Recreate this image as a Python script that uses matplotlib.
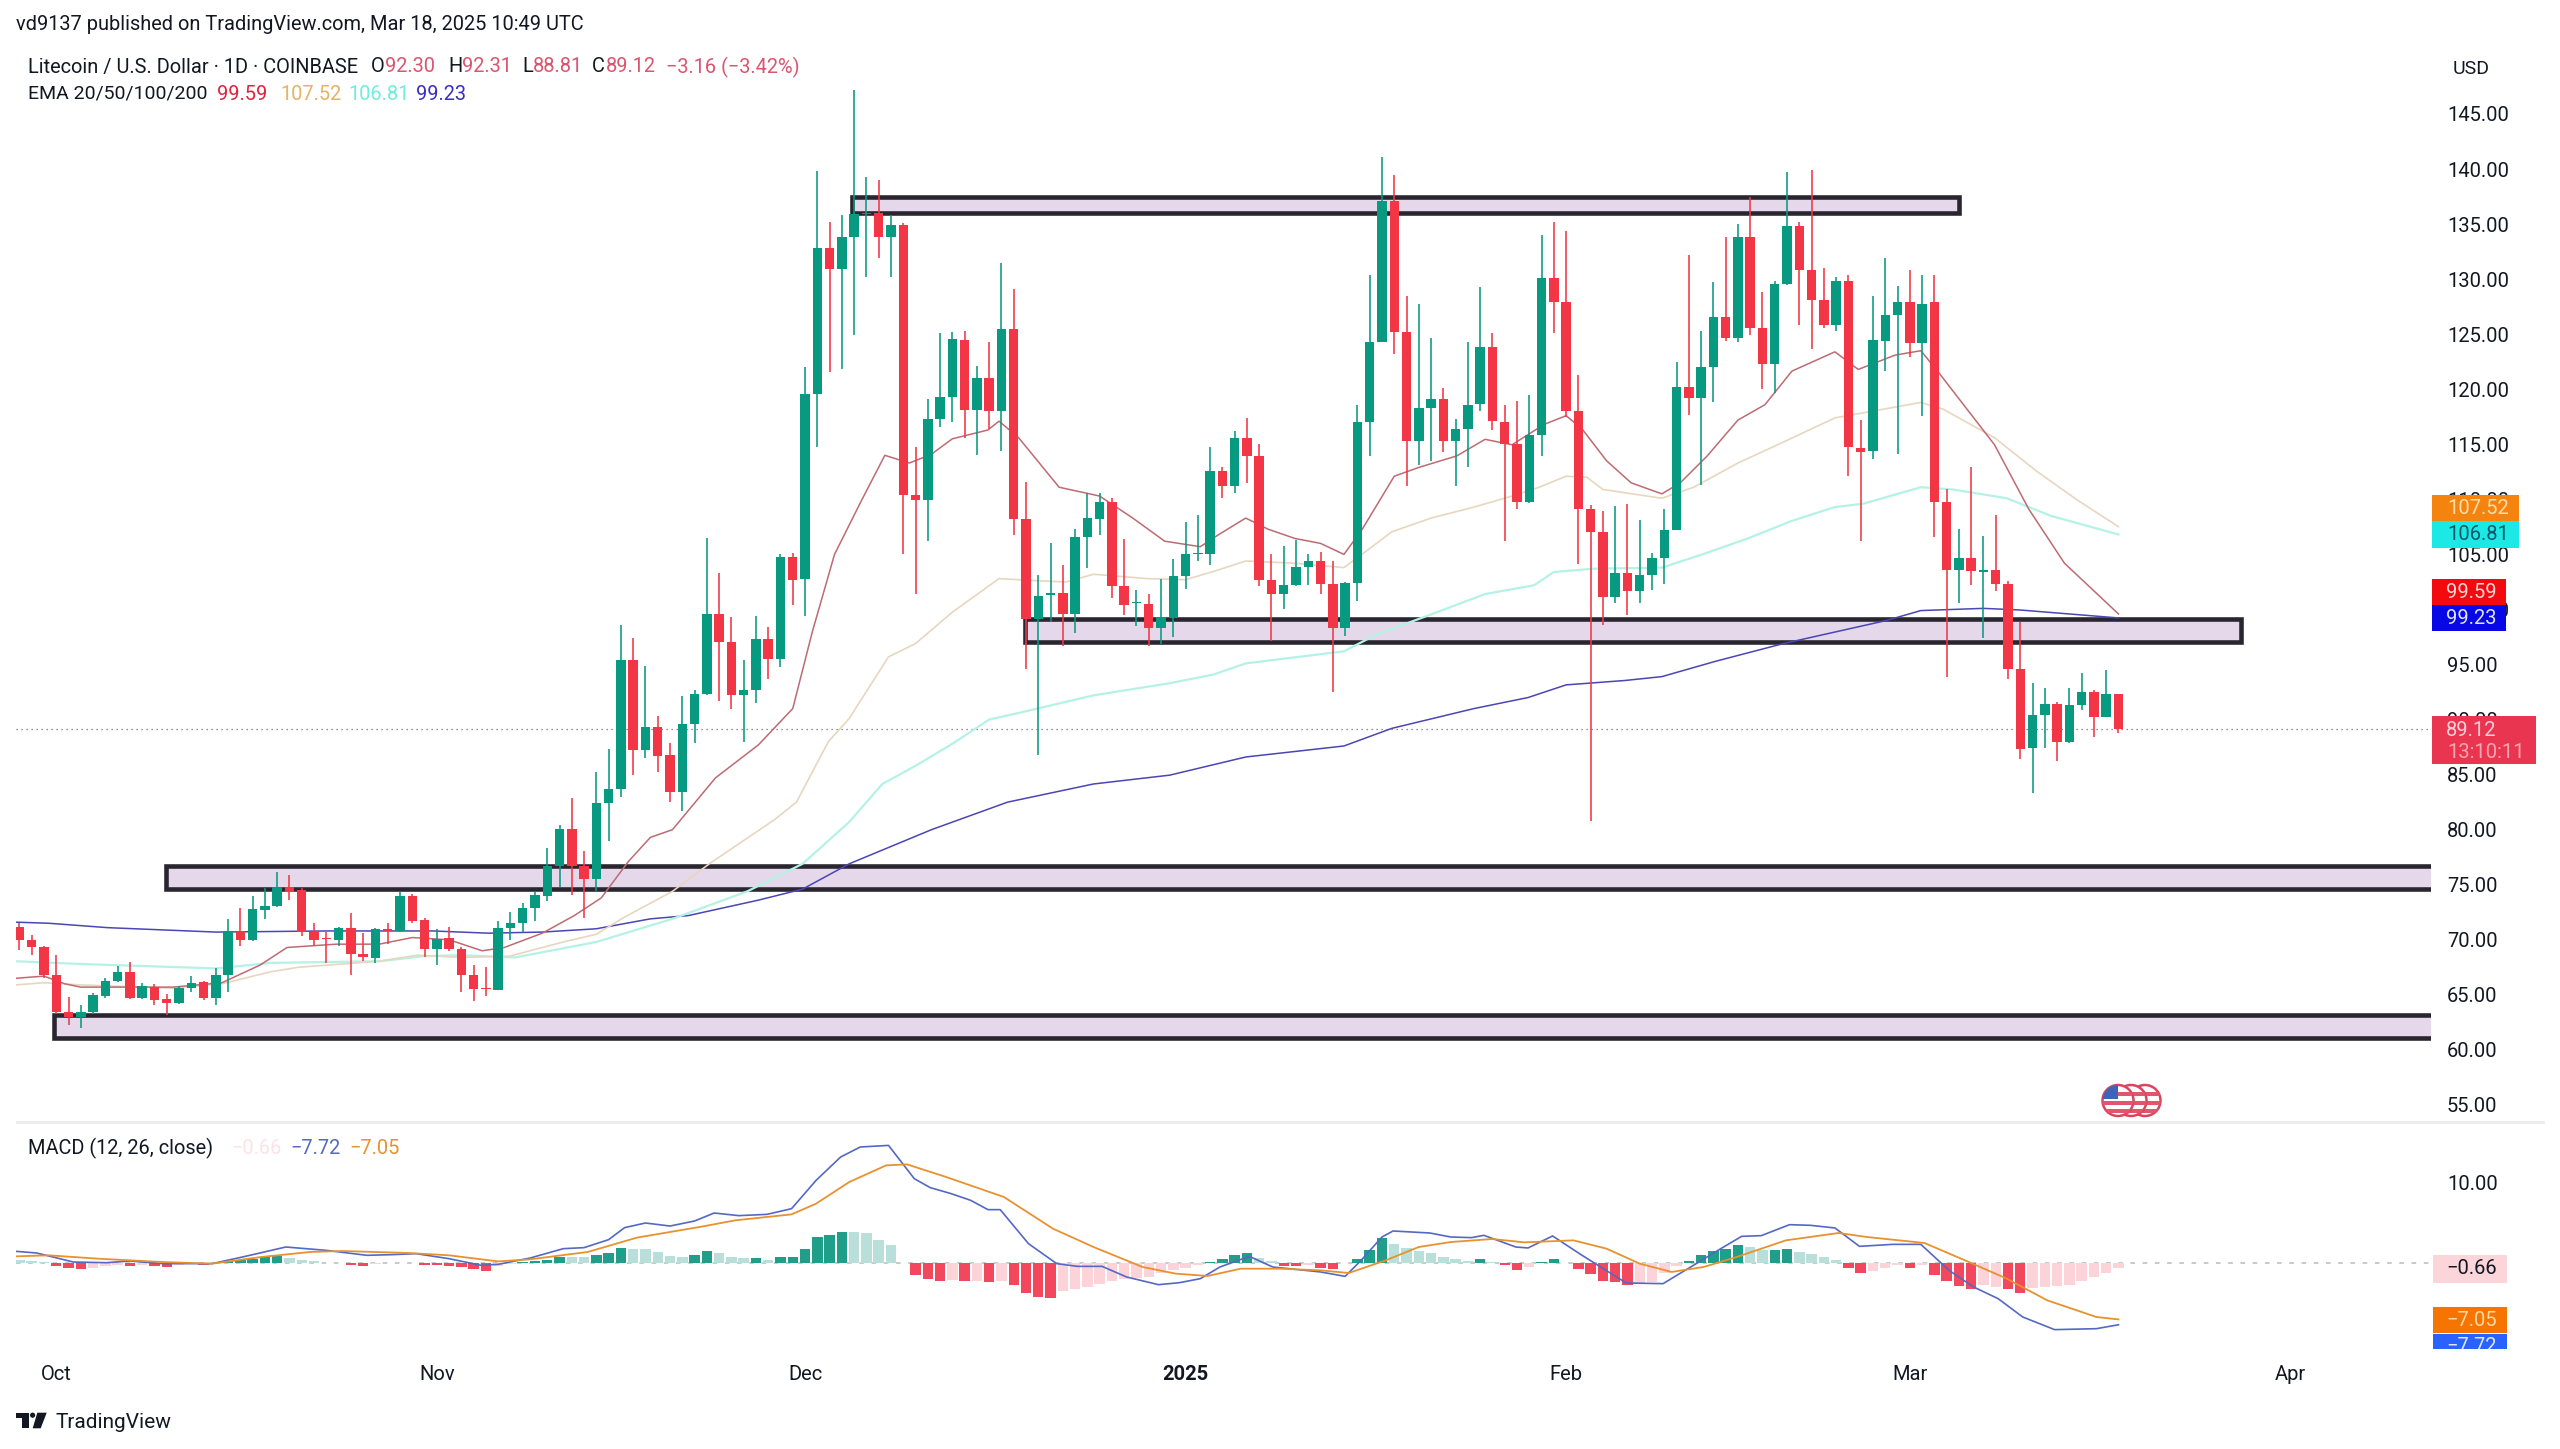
import matplotlib
matplotlib.use("Agg")
import matplotlib.pyplot as plt
from matplotlib.patches import Rectangle, Polygon, Circle
from matplotlib.transforms import Affine2D, Bbox

FONT = "Roboto"
plt.rcParams["font.family"] = [FONT, "DejaVu Sans"]

# ---- daily candles, first one is 28 Sep 2024 (day -3), day 0 = 1 Oct 2024
first_day = -3
opens = [71.2,70.0,69.3,66.8,63.4,63.0,63.4,64.9,66.3,67.1,
64.7,65.7,64.6,64.3,65.6,66.2,64.7,66.8,70.8,70.0,
72.7,73.1,74.8,74.5,70.7,70.2,70.0,71.1,68.7,68.3,
71.0,70.8,74.0,71.8,69.2,70.2,69.2,66.8,65.6,65.4,
71.1,71.5,72.9,74.0,76.7,80.1,76.7,75.5,82.4,83.7,
95.4,87.2,89.3,86.8,83.4,89.6,92.3,99.6,97.0,92.2,
92.7,97.3,95.5,104.8,102.8,119.6,132.8,130.9,133.8,135.9,
136.0,133.8,134.9,110.4,109.9,117.3,119.3,124.5,118.1,121.0,
118.0,125.5,108.2,99.1,101.3,101.5,99.6,106.6,108.2,109.8,
102.1,100.6,100.5,98.3,99.2,103.0,105.0,105.0,112.6,111.2,
115.6,113.9,102.7,101.4,102.2,103.9,104.4,102.3,98.3,102.4,
117.0,124.3,137.1,125.2,115.3,118.3,119.1,115.3,116.4,118.7,
123.8,117.0,115.0,109.8,115.8,130.1,127.9,118.0,109.1,107.0,
101.1,103.3,101.7,103.1,104.7,107.2,120.2,119.2,122.0,126.6,
124.7,133.8,125.6,122.3,129.6,134.8,130.8,128.1,125.8,129.8,
114.7,114.4,124.4,126.7,127.9,124.2,127.9,109.8,103.6,104.7,
103.4,103.6,102.3,94.6,87.4,90.4,91.4,88.0,91.3,92.5,
90.2,92.30]
highs = [71.5,70.4,69.4,68.6,64.8,64.1,65.2,66.5,67.6,68.0,
66.1,66.0,65.1,65.8,66.7,66.3,67.4,71.9,72.9,74.0,
74.7,76.2,75.9,74.7,71.5,70.7,71.2,72.4,70.6,71.1,
71.5,74.3,74.2,72.0,71.0,71.2,69.3,67.7,67.5,71.7,
72.5,73.3,74.3,78.3,80.4,82.9,78.1,85.2,87.3,98.6,
97.4,94.9,90.3,87.9,92.1,92.7,106.5,103.3,99.3,95.4,
99.4,98.4,105.0,105.1,122.0,139.8,135.2,135.8,147.2,139.3,
139.0,135.8,135.1,114.8,119.1,125.1,125.2,125.3,122.1,124.3,
131.5,129.1,111.6,103.1,106.0,104.0,107.3,110.6,110.6,110.1,
106.4,101.8,101.4,102.8,104.6,107.9,108.6,114.8,112.9,116.2,
117.4,115.0,105.0,105.8,106.3,105.0,105.2,104.4,102.5,118.6,
130.4,141.1,139.5,128.5,127.7,124.7,120.1,117.3,124.3,129.3,
125.1,118.6,118.9,119.5,134.0,135.2,134.4,121.3,109.5,108.9,
109.4,109.6,108.1,105.1,109.1,122.5,132.2,125.3,129.7,133.8,
135.0,137.5,128.8,129.8,139.7,135.2,139.9,131.0,130.2,130.4,
117.2,128.5,131.9,129.4,130.8,130.4,130.4,110.9,107.3,112.9,
106.7,108.6,102.6,98.9,93.3,92.9,91.6,92.9,94.2,92.7,
94.5,92.31]
lows = [69.1,68.6,66.5,63.3,62.3,62.0,63.3,64.7,66.2,64.6,
64.6,64.1,63.2,64.2,65.3,64.5,64.1,65.3,69.4,69.9,
71.9,73.0,73.6,70.3,69.4,67.9,69.4,66.8,68.1,67.9,
69.6,70.7,71.5,68.4,67.7,69.0,65.3,64.4,64.9,65.4,
70.0,70.7,71.7,73.5,74.8,74.1,72.0,74.4,79.0,83.0,
85.0,86.5,85.2,82.5,81.7,87.9,92.2,91.7,91.0,88.0,
91.5,93.7,94.8,100.4,99.4,114.8,121.6,121.8,124.9,130.2,
131.9,130.2,105.0,101.4,106.2,116.6,117.0,115.6,114.0,116.4,
114.4,106.8,94.6,86.8,98.9,96.7,97.9,103.8,106.8,101.0,
99.5,98.5,96.7,96.9,97.5,101.9,104.4,104.0,110.1,110.6,
111.5,102.1,97.1,100.0,102.1,102.2,101.4,92.5,97.6,100.8,
113.9,124.3,123.2,111.2,113.1,113.5,114.3,111.2,112.9,118.0,
116.3,106.2,109.1,109.7,113.9,125.1,117.5,104.1,80.8,98.6,
100.6,99.5,100.6,101.8,102.3,107.2,117.7,111.3,118.8,124.4,
124.3,124.9,120.0,119.7,129.5,125.8,123.7,125.6,125.3,112.1,
106.2,113.7,121.7,114.1,122.9,117.6,106.6,93.9,100.6,102.2,
97.4,101.7,93.7,86.4,83.3,87.4,86.2,87.9,90.9,88.4,
90.2,88.81]
closes = [70.0,69.3,66.8,63.4,63.0,63.4,65.0,66.3,67.1,64.7,
65.8,64.5,64.3,65.6,66.1,64.7,66.8,70.8,70.0,72.8,
73.1,74.8,74.3,70.7,70.0,70.1,71.1,68.7,68.4,71.0,
70.8,74.0,71.7,69.2,70.1,69.2,66.8,65.5,65.5,71.1,
71.5,72.9,74.1,76.7,80.1,76.7,75.5,82.4,83.7,95.4,
87.2,89.3,86.7,83.4,89.6,92.3,99.6,97.0,92.2,92.7,
97.3,95.5,104.8,102.7,119.6,132.8,130.9,133.8,135.9,136.0,
133.8,134.9,110.4,109.9,117.3,119.3,124.6,118.1,121.0,118.0,
125.5,108.2,99.1,101.2,101.5,99.6,106.6,108.3,109.8,102.1,
100.4,100.7,98.3,99.3,103.0,105.0,105.1,112.6,111.2,115.6,
113.9,102.7,101.4,102.2,103.9,104.4,102.3,98.3,102.4,117.0,
124.3,137.1,125.2,115.3,118.3,119.1,115.3,116.4,118.6,123.8,
117.1,115.0,109.8,115.8,130.1,127.9,118.0,109.1,107.0,101.1,
103.3,101.7,103.1,104.7,107.2,120.2,119.2,122.0,126.6,124.7,
133.8,125.6,122.3,129.6,134.8,130.8,128.1,125.8,129.8,114.8,
114.3,124.5,126.7,127.9,124.2,127.7,109.8,103.6,104.7,103.5,
103.6,102.3,94.6,87.3,90.4,91.4,88.0,91.3,92.5,90.2,
92.3,89.12]

# ---- EMAs read at selected days
ema20_days = [-3.3,-1,0.7,2,9.5,13.5,16.6,18.8,22.8,26.3,29,32,34.7,36.5,39.6,42.2,44.4,46.6,48.4,50.2,53.7,57.2,60,61.6,63.4,65.6,67.5,69.5,71.3,73,75.9,76.8,78.4,81.7,85,87.7,90.3,93.2,94.7,96.9,98.7,100.9,103,104.9,106.4,109,111,114.1,116.4,118.6,121.2,123,124.3,126.3,128.3,130.8,132.3,134.5,137,139.2,141.4,144.9,146.8,149.8,151.9,153.4,157.9,160.7,163.6,168]
ema20_vals = [66.5,66.7,66.0,65.7,65.7,66.1,67.7,69.3,69.6,69.6,70.2,70.0,69.0,69.3,70.6,72.2,73.8,77.1,79.3,80.0,84.7,87.7,91.0,98.0,105,109.9,114,113.3,114.1,115.5,116.3,117.1,115.6,111.1,110.3,108.3,106.2,105.7,106.8,108.3,107.3,106.45,106.0,105.0,107.3,112.1,112.9,113.95,115.45,114.96,116.8,117.6,116.4,113.5,111.5,110.5,111.5,113.95,117.2,118.6,121.65,123.4,121.8,123.1,123.5,121.45,114.96,109.1,104.2,99.59]
ema50_days = [-3.3,-1,2,9.5,13.5,17.5,19.7,26.3,29.4,32.9,36.9,41.3,44,46.2,50.2,53.2,58.5,60.3,62.9,64.6,67.8,70,73,76.8,80.1,82.3,84.5,88.9,92,94.7,96.9,100.9,104.9,106.6,108.8,112,115.5,118.6,120.8,123,124.7,126,130.8,133.4,137,140.7,144.9,147.9,151.9,153.7,157.9,161.4,164.7,168]
ema50_vals = [65.9,66.1,65.9,65.6,66.0,67.1,67.5,68.05,68.6,68.4,68.5,69.8,70.5,72,74.4,76.9,80.9,82.5,88.0,90.1,95.7,96.9,99.75,102.8,102.6,102.5,103.2,102.8,102.7,103.6,104.4,104.2,103.8,105.2,107.05,108.3,109.3,110.3,111.1,112.1,112,110.9,110.1,111.1,113.3,115.2,117.4,118,118.8,118.2,115.6,112.5,109.9,107.52]
ema100_days = [-3.3,2,13,17.5,26.3,29.9,32.9,37.4,44,50.2,56.3,60.8,64.6,67.3,70,73,76,78.4,84.5,90.7,94.3,96.9,104.9,107.5,112,116.4,120.4,122,125.2,130.8,134.1,137.8,141.4,144.9,147.2,151.9,154.5,158.9,162.5,168]
ema100_vals = [68.05,67.8,67.4,67.9,68.05,68.5,68.6,68.4,69.8,71.9,74.4,76.9,80.7,84.15,85.8,87.8,90,90.6,92.2,93.3,94.1,95.1,96.2,97.7,99.55,101.4,102.2,103.4,103.7,103.8,105,106.45,108.05,109.3,109.6,111.1,110.9,110.1,108.5,106.81]
ema200_days = [-3.3,-0.6,4.2,13,22,30.7,35.2,39.6,44,48.4,51.5,57.2,60.8,64.6,71.3,77.5,84.5,90.7,96.9,104.9,108.8,115.5,119.9,123,127.8,130.8,135.2,140.7,149.1,151.9,157,160,168]
ema200_vals = [71.6,71.5,71.1,70.7,70.8,70.8,70.6,70.7,71,71.9,72.2,73.6,74.6,76.9,80,82.5,84.15,84.95,86.6,87.6,89.2,91,92,93.15,93.55,93.9,95.3,96.9,99,99.9,100.1,99.95,99.23]

# ---- horizontal zones
zone_left = [64.8, 78.9, 8.9, -0.2]
zone_right = [155.0, 178.0, 200.0, 200.0]
zone_low = [136.05, 97.0, 74.65, 61.1]
zone_high = [137.45, 99.1, 76.7, 63.2]

# ---- MACD
macd_days = [-3.3,-1.6,1.4,4.1,6,8.7,12.7,15.4,18.7,22,25.3,27.3,29.3,32,34.6,36,38.6,41.3,43,45,46.3,48,50,52,53.6,55.6,57.9,59.9,61.9,63.9,65.5,67.8,69.9,71.2,72.9,74.5,75.9,76.9,79.2,81.5,83.2,85.2,87.2,89.8,91.5,93.2,94.8,97.2,99.1,103,105,106.3,108,108.9,111.9,113.6,115.3,116.3,118.9,119.9,121.9,124.3,127.9,130.9,133.6,135.6,137.3,138.9,141.2,142.9,144.9,146.9,149.6,151.9,154.2,156.2,158.2,160.2,162.8,166.2,168]
macd_vals = [1.46,1.25,0.12,0.04,0.25,-0.08,-0.08,0.83,2.0,1.58,0.96,1.04,1.17,0.54,-0.29,-0.17,0.62,1.79,1.92,2.92,4.42,5.0,4.62,5.25,6.25,5.92,6.08,6.79,10.33,13.25,14.5,14.7,10.54,9.42,8.67,7.83,6.67,6.67,2.42,-0.08,-0.42,-0.42,-1.75,-2.71,-2.46,-1.96,-0.5,0.83,-0.5,-1.12,-1.67,0.33,3.25,4,3.75,3.25,3.17,3.46,2,1.88,3.38,0.96,-2.5,-2.58,-0.08,1.79,3.33,3.42,4.79,4.71,4.38,2.08,2.33,2.33,-0.92,-3,-4.46,-6.75,-8.33,-8.21,-7.72]
signal_days = [-3.3,-0.6,3.4,8.7,12.7,16.7,20.7,23.3,28.7,32,36,38.6,43.3,47.3,52.7,55.3,59.9,61.9,64.6,67.6,69.3,72.5,77.2,81.2,84.5,88.5,91.2,93.8,96.5,99.7,103,105.3,108.3,111,113.6,117,119.6,123.6,126.3,129,131.6,134.2,136.9,140.9,145.2,147.5,152.2,155.5,158.9,162.2,166.2,168]
signal_vals = [0.83,0.96,0.54,0.12,-0.08,0.75,1.38,1.5,1.25,0.96,0.2,0.46,1.38,3.17,4.58,5.33,6.08,7.42,10.12,12.2,12.33,10.75,8.25,4.29,2,-0.5,-1.33,-1.62,-0.71,-0.71,-0.92,-1.25,0.33,2,2.62,3,2.58,2.83,1.79,-0.08,-1.12,-0.5,0.75,2.83,3.75,3.25,2.5,0.33,-1.96,-4.67,-6.75,-7.05]
hist_vals = [.4,.3,.1,-.38,-.6,-.75,-.6,-.4,-.2,-.4,
-.2,-.4,-.45,-.2,-.05,-.2,-.1,.3,.4,.55,
.7,.85,.6,.4,.2,.05,-.02,-.3,-.4,-.1,
-.02,.05,-.05,-.25,-.3,-.4,-.5,-.8,-1.0,-.4,
-.1,.1,.25,.35,.7,.7,.8,1.0,1.2,1.9,
1.8,1.7,1.35,.85,.8,1.0,1.5,1.3,.8,.6,
.6,.35,.8,.8,1.8,3.2,3.5,3.9,3.9,3.7,
2.9,2.3,.05,-1.5,-2.0,-2.2,-2.1,-2.3,-2.2,-2.4,
-2.2,-2.8,-3.8,-4.3,-4.4,-3.5,-3.2,-3.0,-2.6,-2.2,
-2.0,-1.9,-1.7,-1.3,-.9,-.6,-.2,.1,.5,1.0,
1.2,.6,.3,-.4,-.4,-.3,-.6,-.7,-.05,.5,
1.6,3.1,2.4,1.9,1.5,1.3,.8,.5,.2,.5,
.1,-.2,-.85,-.5,.15,.5,.05,-.7,-1.4,-2.2,
-2.4,-2.7,-2.5,-2.4,-1.2,-.4,.2,1.0,1.5,1.7,
2.3,2.0,1.6,1.6,1.8,1.4,1.1,.8,.4,-.6,
-1.3,-1.0,-.6,-.3,-.6,-.2,-1.5,-2.3,-2.9,-3.2,
-2.8,-3.0,-3.3,-3.7,-3.1,-3.0,-2.9,-2.8,-2.2,-1.7,
-1.3,-.66]
hist_shade = ("LLLSSSLLLS" "LSSLLSLSSS" "SSLLLLSSSL" "LLSSSSSSSL" "LSSSSLLSSS" "LLLLLSSLLL"
              "SLSSSSSSLL" "LLLSSSLSLS" "LSSSSLLLLL" "LLLLLLLSSS" "SLLSSLSSLS" "SSLLLLLLLS"
              "LSSLSSLSSS" "SSLLLLSSSS" "SLLSSLLLLS" "SLLLSLSSSS" "LLSSLLLLLL" "LL")

price_ticks = list(range(55, 150, 5))
month_days = [0, 31, 61, 92, 123, 151, 182]
month_labels = ["Oct", "Nov", "Dec", "2025", "Feb", "Mar", "Apr"]
last_price = 89.12

# ---- styling
W, H = 2560, 1449
UP, DOWN = "#089981", "#f23645"
TXT = "#131722"
TICK_FS = 14.5
HEAD_FS = 14.4
fig = plt.figure(figsize=(W / 100, H / 100), dpi=100, facecolor="white")
pxT = Affine2D().scale(1, -1).translate(0, H)

def axes_px(x0, y0, x1, y1):
    return fig.add_axes([x0 / W, 1 - y1 / H, (x1 - x0) / W, (y1 - y0) / H])

XLIM = (-3.28, 193.46)
ax = axes_px(16, 40, 2431, 1122)
ax.set_xlim(*XLIM)
ax.set_ylim(53.45, 151.72)
ax2 = axes_px(16, 1124, 2431, 1350)
ax2.set_xlim(*XLIM)
ax2.set_ylim(-10.875, 17.375)
for a in (ax, ax2):
    a.patch.set_alpha(0)
    for s in a.spines.values():
        s.set_visible(False)
    a.yaxis.tick_right()
    a.tick_params(axis="y", length=0, pad=11.5, labelsize=TICK_FS, labelcolor=TXT)

ax.set_xticks([])
ax.set_yticks(price_ticks)
ax.set_yticklabels([f"{t:.2f}" for t in price_ticks])
ax2.set_yticks([10])
ax2.set_yticklabels(["10.00"])
ax2.set_xticks(month_days)
ax2.set_xticklabels(month_labels)
ax2.tick_params(axis="x", length=0, pad=11, labelsize=TICK_FS, labelcolor=TXT)
ax2.get_xticklabels()[3].set_fontweight("bold")

# zones
for l, r, lo, hi in zip(zone_left, zone_right, zone_low, zone_high):
    ax.add_patch(Rectangle((l, lo), r - l, hi - lo, facecolor="#e4d8ea", edgecolor="#2a2630",
                           linewidth=3.3, joinstyle="miter", zorder=1))
ax.axhline(last_price, color="#6a6d78", lw=0.9, ls=(0, (1, 3)), zorder=1.5)

# EMAs
ax.plot(ema200_days, ema200_vals, color="#4b45b5", lw=1.1, zorder=2)
ax.plot(ema100_days, ema100_vals, color="#b4f2e6", lw=1.6, zorder=2)
ax.plot(ema50_days, ema50_vals, color="#e8d6bf", lw=1.2, zorder=2)
ax.plot(ema20_days, ema20_vals, color="#bd6b72", lw=1.1, zorder=2)

# candles
days = [first_day + i for i in range(len(opens))]
cols = [UP if c >= o else DOWN for o, c in zip(opens, closes)]
ax.vlines(days, lows, highs, colors=cols, lw=1.15, zorder=3)
ax.bar(days, [abs(c - o) for o, c in zip(opens, closes)],
       bottom=[min(o, c) for o, c in zip(opens, closes)],
       width=0.77, color=cols, linewidth=0, zorder=4)

# MACD pane
shade_map = {(True, "S"): "#1f9e89", (True, "L"): "#b9dfdb", (False, "S"): "#f2475c", (False, "L"): "#fcd3d8"}
hist_days = [first_day + i for i in range(len(hist_vals))]
ax2.bar(hist_days, hist_vals, width=0.85, linewidth=0, zorder=2,
        color=[shade_map[(v >= 0, s)] for v, s in zip(hist_vals, hist_shade)])
ax2.axhline(0, color="#b8bac0", lw=1.1, ls=(0, (3, 5)), zorder=1)
ax2.plot(macd_days, macd_vals, color="#5468c4", lw=1.2, zorder=3)
ax2.plot(signal_days, signal_vals, color="#e8912f", lw=1.3, zorder=3)

# ---- chrome
def ptext(x, y, s, color=TXT, fs=HEAD_FS, ha="left", va="center", **kw):
    return fig.text(x / W, 1 - y / H, s, color=color, fontsize=fs, ha=ha, va=va, **kw)

def tag(x0, y0, x1, y1, color):
    fig.add_artist(Rectangle((x0, y0), x1 - x0, y1 - y0, transform=pxT, facecolor=color, edgecolor="none"))

fig.add_artist(Rectangle((16, 1120.5), 2529, 3, transform=pxT, facecolor="#ececee", edgecolor="none"))

ptext(16, 25, "vd9137 published on TradingView.com, Mar 18, 2025 10:49 UTC")
ptext(28, 67, "Litecoin / U.S. Dollar · 1D · COINBASE")
OHLC_C = "#db5570"
for x, s, c in [(371, "O", TXT), (385, "92.30", OHLC_C), (448, "H", TXT), (462, "92.31", OHLC_C),
                (522, "L", TXT), (533, "88.81", OHLC_C), (592, "C", TXT), (606, "89.12", OHLC_C),
                (666, "−3.16 (−3.42%)", OHLC_C)]:
    ptext(x, 67, s, color=c)
ptext(28, 94, "EMA 20/50/100/200", fs=14)
for x, s, c in [(217, "99.59", "#e0243f"), (280, "107.52", "#e6b264"),
                (348, "106.81", "#6eeedd"), (416, "99.23", "#3a2fc0")]:
    ptext(x, 94, s, color=c)
ptext(2471, 69, "USD", ha="center", fs=14)

ptext(28, 1148, "MACD (12, 26, close)")
ptext(231, 1148, "−0.66", color="#fbe3e6")
ptext(290, 1148, "−7.72", color="#5468c4")
ptext(349, 1148, "−7.05", color="#e8912f")

# price tags
tag(2432, 495, 2519, 521, "#f5830f")
ptext(2447, 508, "107.52", color="#ffdfa8", fs=TICK_FS)
tag(2432, 521, 2519, 548, "#1ce9e6")
ptext(2447, 535, "106.81", color="#07596a", fs=TICK_FS)
tag(2432, 578.5, 2506, 605, "#f20a0f")
ptext(2446, 592, "99.59", color="#ffd6d6", fs=TICK_FS)
tag(2432, 605, 2506, 631, "#0808e6")
ptext(2446, 618, "99.23", color="#dfe4ff", fs=TICK_FS)
tag(2432, 715.5, 2536, 764, "#ea3550")
ptext(2446, 730, "89.12", color="#ffd0d6", fs=TICK_FS)
ptext(2447, 752, "13:10:11", color="#f9a5b2", fs=TICK_FS)

# MACD tags
tag(2433, 1255, 2507, 1283, "#fbd5da")
ptext(2446, 1269, "−0.66", fs=TICK_FS)
tag(2433, 1307, 2507, 1333, "#f57500")
ptext(2446, 1320, "−7.05", color="#ffd9a0", fs=TICK_FS)
tag(2433, 1334, 2507, 1349, "#2962ff")
t = ptext(2446, 1347, "−7.72", color="#dfe6ff", fs=TICK_FS)
t.set_clip_box(Bbox.from_extents(2433, H - 1349, 2507, H - 1334))
t.set_clip_on(True)

# event flags
for cx, front in [(2145, False), (2131, False), (2118, True)]:
    circ = Circle((cx, 1100.5), 15.5, transform=pxT, facecolor="white", edgecolor="#d9455f", lw=1.8)
    fig.add_artist(circ)
    for sy in (1094, 1103, 1111):
        st = Rectangle((cx - 16, sy - 2.2), 32, 4.4, transform=pxT, facecolor="#e2566c", edgecolor="none")
        fig.add_artist(st)
        st.set_clip_path(circ)
    if front:
        cant = Rectangle((cx - 16, 1085), 16, 14, transform=pxT, facecolor="#3d64b8", edgecolor="none")
        fig.add_artist(cant)
        cant.set_clip_path(circ)

# logo
K = "#131722"
fig.add_artist(Polygon([(15.7, 1412.7), (29.3, 1412.7), (29.3, 1428), (21.7, 1428), (21.7, 1417.6), (15.7, 1417.6)],
                       closed=True, transform=pxT, facecolor=K, edgecolor="none"))
fig.add_artist(Circle((32.6, 1415.2), 2.6, transform=pxT, facecolor=K, edgecolor="none"))
fig.add_artist(Polygon([(37.3, 1412.7), (46.7, 1412.7), (40.7, 1428.3), (32.7, 1428.3)],
                       closed=True, transform=pxT, facecolor=K, edgecolor="none"))
ptext(55, 1423, "TradingView", fs=15)

fig.savefig("out.png", dpi=100, facecolor="white")
